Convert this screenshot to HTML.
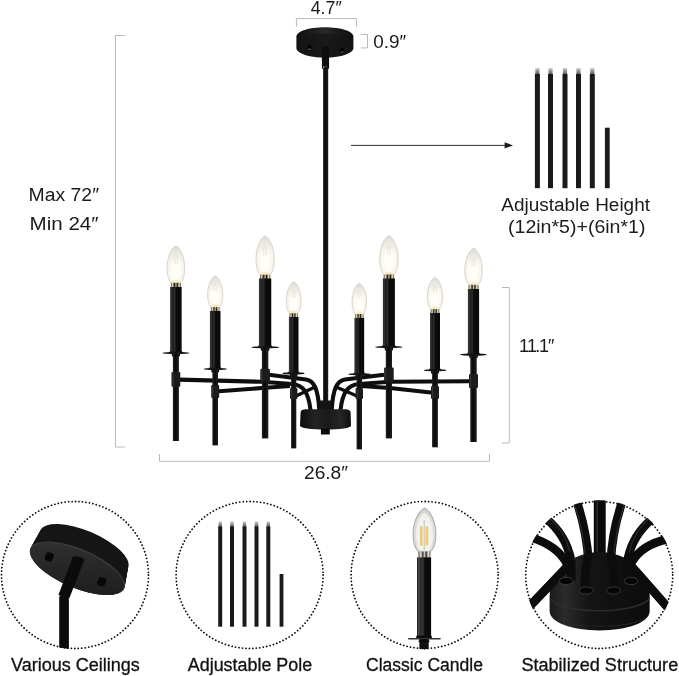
<!DOCTYPE html>
<html lang="en"><head><meta charset="utf-8"><title>Chandelier dimensions</title>
<style>html,body{margin:0;padding:0;background:#fff}body{width:679px;height:676px;overflow:hidden}svg{display:block;will-change:transform}text{font-family:"Liberation Sans", sans-serif;fill:#1b1b1b}</style></head><body>
<svg width="679" height="676" viewBox="0 0 679 676" role="img" aria-label="Chandelier dimensions">
<defs>
<radialGradient id="gbulb" cx="50%" cy="66%" r="64%">
<stop offset="0" stop-color="#fffefb"/><stop offset="0.45" stop-color="#fdfaef"/><stop offset="0.78" stop-color="#f3f1ea"/><stop offset="1" stop-color="#e1dfda"/>
</radialGradient>
<linearGradient id="gbtop" x1="0" x2="0" y1="0" y2="1">
<stop offset="0" stop-color="#dcdad6" stop-opacity="0.75"/><stop offset="0.3" stop-color="#e6e4e0" stop-opacity="0.35"/><stop offset="0.5" stop-color="#ffffff" stop-opacity="0"/>
</linearGradient>
<radialGradient id="glow" cx="50%" cy="50%" r="50%">
<stop offset="0" stop-color="#fff8e6" stop-opacity="0.5"/><stop offset="0.65" stop-color="#fffbf2" stop-opacity="0.28"/><stop offset="1" stop-color="#ffffff" stop-opacity="0"/>
</radialGradient>
<linearGradient id="gcollar" x1="0" x2="1" y1="0" y2="0">
<stop offset="0" stop-color="#5a4c38"/><stop offset="0.18" stop-color="#e6d8b8"/><stop offset="0.36" stop-color="#1e1a14"/><stop offset="0.5" stop-color="#cdbf9f"/><stop offset="0.64" stop-color="#1e1a14"/><stop offset="0.82" stop-color="#ece0c4"/><stop offset="1" stop-color="#5a4c38"/>
</linearGradient>
<linearGradient id="gtube" x1="0" x2="1" y1="0" y2="0">
<stop offset="0" stop-color="#141414"/><stop offset="0.14" stop-color="#3a3a3a"/><stop offset="0.28" stop-color="#1a1a1a"/><stop offset="0.4" stop-color="#2e2e2e"/><stop offset="0.52" stop-color="#0c0c0c"/><stop offset="1" stop-color="#090909"/>
</linearGradient>
<linearGradient id="gtube3" x1="0" x2="1" y1="0" y2="0">
<stop offset="0" stop-color="#161616"/><stop offset="0.13" stop-color="#505050"/><stop offset="0.27" stop-color="#222"/><stop offset="0.4" stop-color="#3c3c3c"/><stop offset="0.54" stop-color="#0e0e0e"/><stop offset="1" stop-color="#080808"/>
</linearGradient>
<linearGradient id="grod" x1="0" x2="1" y1="0" y2="0">
<stop offset="0" stop-color="#222"/><stop offset="0.4" stop-color="#0a0a0a"/><stop offset="1" stop-color="#1e1e1e"/>
</linearGradient>
<linearGradient id="gtip" x1="0" x2="0" y1="0" y2="1">
<stop offset="0" stop-color="#c8c8c8"/><stop offset="1" stop-color="#555"/>
</linearGradient>
<clipPath id="c1"><circle cx="75" cy="574.8" r="74.5"/></clipPath>
<clipPath id="c3"><circle cx="424.6" cy="574.8" r="74.5"/></clipPath>
<clipPath id="c4"><circle cx="599.2" cy="574.8" r="74.5"/></clipPath>
<linearGradient id="gface" x1="0" x2="1" y1="0" y2="1"><stop offset="0" stop-color="#333"/><stop offset="0.5" stop-color="#262626"/><stop offset="1" stop-color="#1c1c1c"/></linearGradient>
<linearGradient id="gcan" x1="0" x2="1" y1="0" y2="0"><stop offset="0" stop-color="#111"/><stop offset="0.3" stop-color="#1c1c1c"/><stop offset="0.5" stop-color="#2a2a2a"/><stop offset="0.7" stop-color="#1b1b1b"/><stop offset="1" stop-color="#0f0f0f"/></linearGradient>
<linearGradient id="ghub" x1="0" x2="1" y1="0" y2="0"><stop offset="0" stop-color="#0d0d0d"/><stop offset="0.3" stop-color="#232323"/><stop offset="0.55" stop-color="#1a1a1a"/><stop offset="0.8" stop-color="#262626"/><stop offset="1" stop-color="#0d0d0d"/></linearGradient>
<radialGradient id="gglass" cx="50%" cy="58%" r="60%"><stop offset="0" stop-color="#f6f5f2"/><stop offset="0.6" stop-color="#e6e5e2"/><stop offset="0.9" stop-color="#cfcfcc"/><stop offset="1" stop-color="#bdbdba"/></radialGradient>
<linearGradient id="gcollar3" x1="0" x2="1" y1="0" y2="0"><stop offset="0" stop-color="#55504a"/><stop offset="0.2" stop-color="#e9e4da"/><stop offset="0.38" stop-color="#3a342c"/><stop offset="0.5" stop-color="#d9d2c4"/><stop offset="0.64" stop-color="#2c2822"/><stop offset="0.82" stop-color="#efeae0"/><stop offset="1" stop-color="#5a544c"/></linearGradient>
<linearGradient id="ghub4" x1="0" x2="1" y1="0" y2="0"><stop offset="0" stop-color="#1a1a1a"/><stop offset="0.15" stop-color="#2b2b2b"/><stop offset="0.4" stop-color="#141414"/><stop offset="1" stop-color="#0c0c0c"/></linearGradient>
</defs>
<rect width="679" height="676" fill="#fff"/>
<g fill="none" stroke="#b9b9b9" stroke-width="1">
<path d="M125,35.5 H115.5 V447 H125"/>
<path d="M159.5,454 V461.3 H489.5 V454"/>
<path d="M502,287.5 H509.3 V443 H502"/>
<path d="M296.4,26.8 V18.6 H356.4 V26.8"/>
<path d="M360.8,34.5 H367.5 V47.9 H360.8"/>
</g>
<text x="310.7" y="14.4" font-size="17.5" textLength="31" lengthAdjust="spacingAndGlyphs" text-anchor="start">4.7″</text>
<text x="373.3" y="47.6" font-size="17.5" textLength="33" lengthAdjust="spacingAndGlyphs" text-anchor="start">0.9″</text>
<text x="28.6" y="200.7" font-size="18" textLength="70.4" lengthAdjust="spacingAndGlyphs" text-anchor="start">Max 72″</text>
<text x="29.6" y="229.7" font-size="18" textLength="69" lengthAdjust="spacingAndGlyphs" text-anchor="start">Min 24″</text>
<text x="519 527.1 535.3 539 548" y="352" font-size="18">11.1″</text>
<text x="304" y="478.7" font-size="17.5" textLength="44" lengthAdjust="spacingAndGlyphs" text-anchor="start">26.8″</text>
<text x="501.3" y="210.7" font-size="18" textLength="148.7" lengthAdjust="spacingAndGlyphs" text-anchor="start">Adjustable Height</text>
<text x="508" y="233.3" font-size="18" textLength="137.5" lengthAdjust="spacingAndGlyphs" text-anchor="start">(12in*5)+(6in*1)</text>
<path d="M351,145.4 H506" stroke="#2e2e2e" stroke-width="1" fill="none"/>
<path d="M513,145.4 L504.6,142.3 L504.6,148.5Z" fill="#1a1a1a"/>
<rect x="535.30" y="68.2" width="4.2" height="6.2" fill="url(#gtip)"/>
<rect x="534.90" y="74" width="5" height="114.2" fill="#1a1a1a"/>
<rect x="548.40" y="68.2" width="4.2" height="6.2" fill="url(#gtip)"/>
<rect x="548.00" y="74" width="5" height="114.2" fill="#1a1a1a"/>
<rect x="562.90" y="68.2" width="4.2" height="6.2" fill="url(#gtip)"/>
<rect x="562.50" y="74" width="5" height="114.2" fill="#1a1a1a"/>
<rect x="576.40" y="68.2" width="4.2" height="6.2" fill="url(#gtip)"/>
<rect x="576.00" y="74" width="5" height="114.2" fill="#1a1a1a"/>
<rect x="590.20" y="68.2" width="4.2" height="6.2" fill="url(#gtip)"/>
<rect x="589.80" y="74" width="5" height="114.2" fill="#1a1a1a"/>
<rect x="604.9" y="127.7" width="4.8" height="60.5" fill="#1a1a1a"/>
<g>
<path d="M296.4,36.5 C296.4,31.3 309,27.2 324.9,27.2 C340.8,27.2 353.4,31.3 353.4,36.5 V48 C353.4,53.3 340.8,57.6 324.9,57.6 C309,57.6 296.4,53.3 296.4,48Z" fill="url(#gcan)"/>
<path d="M297,42 C300,36.5 312,33.6 324.9,33.6 C338,33.6 350,36.5 352.8,42 V48 C352.8,53 340.5,57.2 324.9,57.2 C309.3,57.2 297,53 297,48Z" fill="#151515" opacity="0.75"/>
<rect x="307.2" y="44.8" width="4.4" height="5.6" rx="1.6" fill="#050505"/>
<rect x="307.8" y="48.6" width="3.4" height="1.4" rx="0.7" fill="#4a4a4a"/>
<rect x="339.8" y="47.8" width="4.4" height="5.4" rx="1.6" fill="#050505"/>
<rect x="340.4" y="51.4" width="3.4" height="1.3" rx="0.7" fill="#4a4a4a"/>
<rect x="321.9" y="46.5" width="7.2" height="22.4" rx="1.2" fill="#0d0d0d"/>
<circle cx="323.6" cy="67.2" r="0.9" fill="#9a9a9a"/>
<circle cx="326.2" cy="66.4" r="0.6" fill="#6a6a6a"/>
</g>
<rect x="323.1" y="68" width="5.1" height="342" fill="url(#grod)"/>
<g fill="none" stroke="#0e0e0e" stroke-width="4.1" stroke-linecap="butt">
<path d="M179,379.6 L262,381.8 L292,384 C303,385 308.5,392 310.5,410"/>
<path d="M219,391.3 L262,388 L290,386"/>
<path d="M269,374.8 L306,379.5 C314,381 318,388 319.3,410"/>
<path d="M296,396 L316,386.5" stroke-width="3.4"/>
<path d="M471,381.2 L390,381.8 L359,384 C348,385 342.5,392 340.5,410"/>
<path d="M433,392.8 L390,388 L361,386"/>
<path d="M384,374.8 L345,379.5 C337,381 333,388 331.7,410"/>
<path d="M357,396 L335,386.5" stroke-width="3.4"/>
</g>
<rect x="319.8" y="400.5" width="11.4" height="10" fill="#141414"/>
<path d="M300.6,412.5 C300.6,410.3 303,409.3 306,409.3 H345 C348,409.3 350.6,410.3 350.6,412.5 L351,425.5 C351,428 340,429.6 325.5,429.6 C311,429.6 300,428 300,425.5Z" fill="url(#ghub)"/>
<rect x="320.9" y="428.5" width="8.9" height="6" fill="#0a0a0a"/>
<ellipse cx="175.9" cy="267.8" rx="14.7" ry="24.6" fill="url(#glow)"/>
<path d="M175.90,245.80 C181.15,248.42 184.65,258.52 184.65,267.49 C184.65,277.22 182.46,281.33 180.28,283.20 L171.53,283.20 C169.34,281.33 167.15,277.22 167.15,267.49 C167.15,258.52 170.65,248.42 175.90,245.80Z" fill="url(#gbulb)" stroke="#cfcdc7" stroke-width="0.8"/>
<path d="M175.90,246.40 C180.79,248.98 184.05,258.91 184.05,267.74 C184.05,277.31 182.01,281.36 179.97,283.20 L171.83,283.20 C169.79,281.36 167.75,277.31 167.75,267.74 C167.75,258.91 171.01,248.98 175.90,246.40Z" fill="url(#gbtop)"/>
<ellipse cx="175.9" cy="268.6" rx="4.7" ry="10.0" fill="#fffefa" opacity="0.85"/>
<rect x="172.40" y="280.20" width="7.00" height="2.4" rx="1.2" fill="#f6e7bd" opacity="0.85"/>
<path d="M174.30,256.66 V264.84 M177.50,256.66 V264.84 M175.90,254.43 V264.10" stroke="#e3dcc6" stroke-width="0.7" fill="none" opacity="0.8"/>
<rect x="170.93" y="282.80" width="9.94" height="4.70" fill="url(#gcollar)"/>
<path d="M170.15,287.00 H181.65 V350.80 L182.55,352.40 V353.40 H169.25 V352.40 L170.15,350.80Z" fill="url(#gtube)"/>
<ellipse cx="175.95" cy="353.00" rx="13.45" ry="1.15" fill="#141414"/>
<rect x="171.80" y="353.00" width="8.20" height="3.4" rx="0.9" fill="#111"/>
<rect x="172.90" y="353.00" width="6.00" height="88.00" fill="url(#grod)"/>
<rect x="171.50" y="372.00" width="8.80" height="14.70" rx="1.2" fill="#1b1b1b"/>
<rect x="172.70" y="373.00" width="0.9" height="12.70" fill="#4a4a4a" opacity="0.7"/>
<ellipse cx="215.2" cy="294.4" rx="12.8" ry="20.8" fill="url(#glow)"/>
<path d="M215.20,275.80 C219.73,278.02 222.75,286.58 222.75,294.19 C222.75,302.43 220.86,305.92 218.97,307.50 L211.42,307.50 C209.54,305.92 207.65,302.43 207.65,294.19 C207.65,286.58 210.67,278.02 215.20,275.80Z" fill="url(#gbulb)" stroke="#cfcdc7" stroke-width="0.8"/>
<path d="M215.20,276.40 C219.37,278.58 222.15,286.97 222.15,294.44 C222.15,302.52 220.41,305.94 218.67,307.50 L211.72,307.50 C209.99,305.94 208.25,302.52 208.25,294.44 C208.25,286.97 211.03,278.58 215.20,276.40Z" fill="url(#gbtop)"/>
<ellipse cx="215.2" cy="295.0" rx="4.1" ry="8.5" fill="#fffefa" opacity="0.85"/>
<rect x="212.18" y="304.50" width="6.04" height="2.4" rx="1.2" fill="#f6e7bd" opacity="0.85"/>
<path d="M213.60,284.95 V291.88 M216.80,284.95 V291.88 M215.20,283.06 V291.25" stroke="#e3dcc6" stroke-width="0.7" fill="none" opacity="0.8"/>
<rect x="210.88" y="307.10" width="8.64" height="4.40" fill="url(#gcollar)"/>
<path d="M209.90,311.00 H220.50 V366.80 L221.40,368.40 V369.40 H209.00 V368.40 L209.90,366.80Z" fill="url(#gtube)"/>
<ellipse cx="215.40" cy="369.00" rx="11.60" ry="1.15" fill="#141414"/>
<rect x="211.30" y="369.00" width="7.80" height="3.4" rx="0.9" fill="#111"/>
<rect x="212.40" y="369.00" width="5.60" height="76.40" fill="url(#grod)"/>
<rect x="211.20" y="385.00" width="8.00" height="13.00" rx="1.2" fill="#1b1b1b"/>
<rect x="212.40" y="386.00" width="0.9" height="11.00" fill="#4a4a4a" opacity="0.7"/>
<ellipse cx="265.1" cy="259.0" rx="15.2" ry="25.8" fill="url(#glow)"/>
<path d="M265.10,235.80 C270.53,238.55 274.15,249.16 274.15,258.59 C274.15,268.81 271.89,273.13 269.62,275.10 L260.58,275.10 C258.31,273.13 256.05,268.81 256.05,258.59 C256.05,249.16 259.67,238.55 265.10,235.80Z" fill="url(#gbulb)" stroke="#cfcdc7" stroke-width="0.8"/>
<path d="M265.10,236.40 C270.17,239.11 273.55,249.56 273.55,258.85 C273.55,268.91 271.44,273.17 269.33,275.10 L260.88,275.10 C258.76,273.17 256.65,268.91 256.65,258.85 C256.65,249.56 260.03,239.11 265.10,236.40Z" fill="url(#gbtop)"/>
<ellipse cx="265.1" cy="259.7" rx="4.9" ry="10.6" fill="#fffefa" opacity="0.85"/>
<rect x="261.48" y="272.10" width="7.24" height="2.4" rx="1.2" fill="#f6e7bd" opacity="0.85"/>
<path d="M263.50,247.23 V255.83 M266.70,247.23 V255.83 M265.10,244.88 V255.05" stroke="#e3dcc6" stroke-width="0.7" fill="none" opacity="0.8"/>
<rect x="259.97" y="274.70" width="10.26" height="4.40" fill="url(#gcollar)"/>
<path d="M258.95,278.60 H271.25 V345.10 L272.15,346.70 V347.70 H258.05 V346.70 L258.95,345.10Z" fill="url(#gtube)"/>
<ellipse cx="265.35" cy="347.30" rx="13.95" ry="1.15" fill="#141414"/>
<rect x="260.80" y="347.30" width="8.60" height="3.4" rx="0.9" fill="#111"/>
<rect x="261.90" y="347.30" width="6.40" height="91.10" fill="url(#grod)"/>
<rect x="260.30" y="368.70" width="9.60" height="13.30" rx="1.2" fill="#1b1b1b"/>
<rect x="261.50" y="369.70" width="0.9" height="11.30" fill="#4a4a4a" opacity="0.7"/>
<ellipse cx="293.7" cy="300.5" rx="12.5" ry="21.0" fill="url(#glow)"/>
<path d="M293.70,281.70 C298.11,283.94 301.05,292.58 301.05,300.26 C301.05,308.58 299.21,312.10 297.38,313.70 L290.02,313.70 C288.19,312.10 286.35,308.58 286.35,300.26 C286.35,292.58 289.29,283.94 293.70,281.70Z" fill="url(#gbulb)" stroke="#cfcdc7" stroke-width="0.8"/>
<path d="M293.70,282.30 C297.75,284.50 300.45,292.98 300.45,300.51 C300.45,308.68 298.76,312.13 297.07,313.70 L290.32,313.70 C288.64,312.13 286.95,308.68 286.95,300.51 C286.95,292.98 289.65,284.50 293.70,282.30Z" fill="url(#gbtop)"/>
<ellipse cx="293.7" cy="301.1" rx="4.0" ry="8.6" fill="#fffefa" opacity="0.85"/>
<rect x="290.76" y="310.70" width="5.88" height="2.4" rx="1.2" fill="#f6e7bd" opacity="0.85"/>
<path d="M292.10,290.94 V297.94 M295.30,290.94 V297.94 M293.70,289.03 V297.30" stroke="#e3dcc6" stroke-width="0.7" fill="none" opacity="0.8"/>
<rect x="289.49" y="313.30" width="8.42" height="4.20" fill="url(#gcollar)"/>
<path d="M288.90,317.00 H298.50 V371.20 L299.40,372.80 V373.80 H288.00 V372.80 L288.90,371.20Z" fill="url(#gtube)"/>
<ellipse cx="293.50" cy="373.40" rx="11.10" ry="1.15" fill="#141414"/>
<rect x="290.00" y="373.40" width="7.40" height="3.4" rx="0.9" fill="#111"/>
<rect x="291.10" y="373.40" width="5.20" height="75.00" fill="url(#grod)"/>
<rect x="290.00" y="388.00" width="7.40" height="11.00" rx="1.2" fill="#1b1b1b"/>
<rect x="291.20" y="389.00" width="0.9" height="9.00" fill="#4a4a4a" opacity="0.7"/>
<ellipse cx="359.3" cy="301.6" rx="12.3" ry="20.5" fill="url(#glow)"/>
<path d="M359.30,283.20 C363.65,285.39 366.55,293.84 366.55,301.35 C366.55,309.49 364.74,312.94 362.93,314.50 L355.68,314.50 C353.86,312.94 352.05,309.49 352.05,301.35 C352.05,293.84 354.95,285.39 359.30,283.20Z" fill="url(#gbulb)" stroke="#cfcdc7" stroke-width="0.8"/>
<path d="M359.30,283.80 C363.29,285.95 365.95,294.24 365.95,301.61 C365.95,309.59 364.29,312.96 362.62,314.50 L355.98,314.50 C354.31,312.96 352.65,309.59 352.65,301.61 C352.65,294.24 355.31,285.95 359.30,283.80Z" fill="url(#gbtop)"/>
<ellipse cx="359.3" cy="302.2" rx="3.9" ry="8.4" fill="#fffefa" opacity="0.85"/>
<rect x="356.40" y="311.50" width="5.80" height="2.4" rx="1.2" fill="#f6e7bd" opacity="0.85"/>
<path d="M357.70,292.23 V299.07 M360.90,292.23 V299.07 M359.30,290.36 V298.45" stroke="#e3dcc6" stroke-width="0.7" fill="none" opacity="0.8"/>
<rect x="355.14" y="314.10" width="8.32" height="4.40" fill="url(#gcollar)"/>
<path d="M354.45,318.00 H364.15 V372.00 L365.05,373.60 V374.60 H353.55 V373.60 L354.45,372.00Z" fill="url(#gtube)"/>
<ellipse cx="359.65" cy="374.20" rx="11.35" ry="1.15" fill="#141414"/>
<rect x="355.50" y="374.20" width="7.60" height="3.4" rx="0.9" fill="#111"/>
<rect x="356.60" y="374.20" width="5.40" height="75.20" fill="url(#grod)"/>
<rect x="355.60" y="388.00" width="7.40" height="11.00" rx="1.2" fill="#1b1b1b"/>
<rect x="356.80" y="389.00" width="0.9" height="9.00" fill="#4a4a4a" opacity="0.7"/>
<ellipse cx="388.9" cy="258.7" rx="15.4" ry="25.9" fill="url(#glow)"/>
<path d="M388.90,235.50 C394.39,238.26 398.05,248.90 398.05,258.35 C398.05,268.60 395.76,272.93 393.47,274.90 L384.32,274.90 C382.04,272.93 379.75,268.60 379.75,258.35 C379.75,248.90 383.41,238.26 388.90,235.50Z" fill="url(#gbulb)" stroke="#cfcdc7" stroke-width="0.8"/>
<path d="M388.90,236.10 C394.03,238.82 397.45,249.29 397.45,258.60 C397.45,268.69 395.31,272.96 393.17,274.90 L384.62,274.90 C382.49,272.96 380.35,268.69 380.35,258.60 C380.35,249.29 383.77,238.82 388.90,236.10Z" fill="url(#gbtop)"/>
<ellipse cx="388.9" cy="259.5" rx="4.9" ry="10.6" fill="#fffefa" opacity="0.85"/>
<rect x="385.24" y="271.90" width="7.32" height="2.4" rx="1.2" fill="#f6e7bd" opacity="0.85"/>
<path d="M387.30,246.96 V255.58 M390.50,246.96 V255.58 M388.90,244.61 V254.80" stroke="#e3dcc6" stroke-width="0.7" fill="none" opacity="0.8"/>
<rect x="383.72" y="274.50" width="10.37" height="4.50" fill="url(#gcollar)"/>
<path d="M382.90,278.50 H394.90 V344.80 L395.80,346.40 V347.40 H382.00 V346.40 L382.90,344.80Z" fill="url(#gtube)"/>
<ellipse cx="388.85" cy="347.00" rx="13.65" ry="1.15" fill="#141414"/>
<rect x="384.70" y="347.00" width="8.40" height="3.4" rx="0.9" fill="#111"/>
<rect x="385.80" y="347.00" width="6.20" height="91.40" fill="url(#grod)"/>
<rect x="384.10" y="367.60" width="9.60" height="14.40" rx="1.2" fill="#1b1b1b"/>
<rect x="385.30" y="368.60" width="0.9" height="12.40" fill="#4a4a4a" opacity="0.7"/>
<ellipse cx="435.0" cy="296.2" rx="12.8" ry="21.1" fill="url(#glow)"/>
<path d="M435.00,277.30 C439.53,279.55 442.55,288.25 442.55,295.98 C442.55,304.35 440.66,307.89 438.77,309.50 L431.23,309.50 C429.34,307.89 427.45,304.35 427.45,295.98 C427.45,288.25 430.47,279.55 435.00,277.30Z" fill="url(#gbulb)" stroke="#cfcdc7" stroke-width="0.8"/>
<path d="M435.00,277.90 C439.17,280.11 441.95,288.64 441.95,296.23 C441.95,304.44 440.21,307.92 438.48,309.50 L431.52,309.50 C429.79,307.92 428.05,304.44 428.05,296.23 C428.05,288.64 430.83,280.11 435.00,277.90Z" fill="url(#gbtop)"/>
<ellipse cx="435.0" cy="296.8" rx="4.1" ry="8.6" fill="#fffefa" opacity="0.85"/>
<rect x="431.98" y="306.50" width="6.04" height="2.4" rx="1.2" fill="#f6e7bd" opacity="0.85"/>
<path d="M433.40,286.60 V293.64 M436.60,286.60 V293.64 M435.00,284.68 V293.00" stroke="#e3dcc6" stroke-width="0.7" fill="none" opacity="0.8"/>
<rect x="430.68" y="309.10" width="8.64" height="4.40" fill="url(#gcollar)"/>
<path d="M430.00,313.00 H440.00 V368.10 L440.90,369.70 V370.70 H429.10 V369.70 L430.00,368.10Z" fill="url(#gtube)"/>
<ellipse cx="435.20" cy="370.30" rx="11.40" ry="1.15" fill="#141414"/>
<rect x="431.00" y="370.30" width="8.00" height="3.4" rx="0.9" fill="#111"/>
<rect x="432.10" y="370.30" width="5.80" height="77.00" fill="url(#grod)"/>
<rect x="431.00" y="386.00" width="8.00" height="13.00" rx="1.2" fill="#1b1b1b"/>
<rect x="432.20" y="387.00" width="0.9" height="11.00" fill="#4a4a4a" opacity="0.7"/>
<ellipse cx="473.5" cy="269.9" rx="14.6" ry="24.4" fill="url(#glow)"/>
<path d="M473.50,248.10 C478.69,250.70 482.15,260.71 482.15,269.62 C482.15,279.26 479.99,283.34 477.82,285.20 L469.18,285.20 C467.01,283.34 464.85,279.26 464.85,269.62 C464.85,260.71 468.31,250.70 473.50,248.10Z" fill="url(#gbulb)" stroke="#cfcdc7" stroke-width="0.8"/>
<path d="M473.50,248.70 C478.33,251.26 481.55,261.11 481.55,269.87 C481.55,279.36 479.54,283.38 477.52,285.20 L469.48,285.20 C467.46,283.38 465.45,279.36 465.45,269.87 C465.45,261.11 468.67,251.26 473.50,248.70Z" fill="url(#gbtop)"/>
<ellipse cx="473.5" cy="270.7" rx="4.7" ry="10.0" fill="#fffefa" opacity="0.85"/>
<rect x="470.04" y="282.20" width="6.92" height="2.4" rx="1.2" fill="#f6e7bd" opacity="0.85"/>
<path d="M471.90,258.87 V266.99 M475.10,258.87 V266.99 M473.50,256.66 V266.25" stroke="#e3dcc6" stroke-width="0.7" fill="none" opacity="0.8"/>
<rect x="468.59" y="284.80" width="9.83" height="4.70" fill="url(#gcollar)"/>
<path d="M467.90,289.00 H479.10 V352.40 L480.00,354.00 V355.00 H467.00 V354.00 L467.90,352.40Z" fill="url(#gtube)"/>
<ellipse cx="473.50" cy="354.60" rx="13.50" ry="1.15" fill="#141414"/>
<rect x="469.20" y="354.60" width="8.60" height="3.4" rx="0.9" fill="#111"/>
<rect x="470.30" y="354.60" width="6.40" height="87.40" fill="url(#grod)"/>
<rect x="469.00" y="374.00" width="9.00" height="14.00" rx="1.2" fill="#1b1b1b"/>
<rect x="470.20" y="375.00" width="0.9" height="12.00" fill="#4a4a4a" opacity="0.7"/>
<circle cx="75" cy="575" r="73.5" fill="none" stroke="#0c0c0c" stroke-width="1.8" stroke-dasharray="0.01 3.4886" stroke-linecap="round"/>
<circle cx="249.6" cy="575" r="73.5" fill="none" stroke="#0c0c0c" stroke-width="1.8" stroke-dasharray="0.01 3.4886" stroke-linecap="round"/>
<circle cx="424.6" cy="575" r="73.5" fill="none" stroke="#0c0c0c" stroke-width="1.8" stroke-dasharray="0.01 3.4886" stroke-linecap="round"/>
<circle cx="599.2" cy="575" r="73.5" fill="none" stroke="#0c0c0c" stroke-width="1.8" stroke-dasharray="0.01 3.4886" stroke-linecap="round"/>
<g clip-path="url(#c1)">
<g transform="rotate(23 77.4 568.3)">
<ellipse cx="76.17" cy="548.00" rx="47.60" ry="18.30" fill="#161616"/>
<ellipse cx="76.25" cy="549.45" rx="47.84" ry="18.39" fill="#161616"/>
<ellipse cx="76.34" cy="550.90" rx="48.09" ry="18.47" fill="#161616"/>
<ellipse cx="76.43" cy="552.35" rx="48.33" ry="18.56" fill="#161616"/>
<ellipse cx="76.52" cy="553.80" rx="48.57" ry="18.64" fill="#161616"/>
<ellipse cx="76.61" cy="555.25" rx="48.81" ry="18.73" fill="#161616"/>
<ellipse cx="76.69" cy="556.70" rx="49.06" ry="18.81" fill="#161616"/>
<ellipse cx="76.78" cy="558.15" rx="49.30" ry="18.90" fill="#161616"/>
<ellipse cx="76.87" cy="559.60" rx="49.54" ry="18.99" fill="#161616"/>
<ellipse cx="76.96" cy="561.05" rx="49.79" ry="19.07" fill="#161616"/>
<ellipse cx="77.05" cy="562.50" rx="50.03" ry="19.16" fill="#161616"/>
<ellipse cx="77.14" cy="563.95" rx="50.27" ry="19.24" fill="#161616"/>
<ellipse cx="77.22" cy="565.40" rx="50.51" ry="19.33" fill="#161616"/>
<ellipse cx="77.31" cy="566.85" rx="50.76" ry="19.41" fill="#161616"/>
<ellipse cx="77.40" cy="568.30" rx="51.00" ry="19.50" fill="#161616"/>
<ellipse cx="77.4" cy="568.3" rx="51" ry="19.5" fill="#3a3a3a"/>
<ellipse cx="77.4" cy="568.9" rx="50.2" ry="18.7" fill="url(#gface)"/>
</g>
<rect x="45.2" y="552.6" width="8" height="8.6" rx="2.6" fill="#070707" transform="rotate(20 49.2 556.8)"/>
<rect x="97.7" y="577.4" width="8" height="8.6" rx="2.6" fill="#070707" transform="rotate(20 101.7 581.6)"/>
<path d="M73,556.5 Q79,555 84.5,559.5 L69.2,598.5 L58.4,595Z" fill="#0b0b0b"/>
<path d="M59.2,597.5 Q59.2,595 61.5,595.2 L67,596.5 Q68.9,597 68.9,599.5 V653 H59.2Z" fill="#0b0b0b"/>
</g>
<rect x="218.50" y="521.6" width="3.4" height="5" fill="url(#gtip)"/>
<rect x="218.20" y="526.3" width="4" height="100.4" fill="#1a1a1a"/>
<rect x="230.30" y="521.6" width="3.4" height="5" fill="url(#gtip)"/>
<rect x="230.00" y="526.3" width="4" height="100.4" fill="#1a1a1a"/>
<rect x="242.80" y="521.6" width="3.4" height="5" fill="url(#gtip)"/>
<rect x="242.50" y="526.3" width="4" height="100.4" fill="#1a1a1a"/>
<rect x="254.80" y="521.6" width="3.4" height="5" fill="url(#gtip)"/>
<rect x="254.50" y="526.3" width="4" height="100.4" fill="#1a1a1a"/>
<rect x="266.60" y="521.6" width="3.4" height="5" fill="url(#gtip)"/>
<rect x="266.30" y="526.3" width="4" height="100.4" fill="#1a1a1a"/>
<rect x="279.6" y="574" width="3.8" height="52.7" fill="#1a1a1a"/>
<g clip-path="url(#c3)">
<path d="M424.50,508.10 C431.34,511.17 435.90,523.03 435.90,533.56 C435.90,544.98 433.05,549.80 430.20,552.00 L418.80,552.00 C415.95,549.80 413.10,544.98 413.10,533.56 C413.10,523.03 417.66,511.17 424.50,508.10Z" fill="url(#gglass)" stroke="#a3a3a0" stroke-width="0.9"/>
<path d="M424.50,512.50 C429.45,515.20 432.75,525.59 432.75,534.83 C432.75,544.84 430.69,549.08 428.62,551.00 L420.38,551.00 C418.31,549.08 416.25,544.84 416.25,534.83 C416.25,525.59 419.55,515.20 424.50,512.50Z" fill="#f4f3ef" opacity="0.85"/>
<rect x="423.5" y="520" width="1.6" height="30" fill="#c9c7c0" opacity="0.8"/>
<rect x="419.9" y="526.2" width="2.7" height="19.6" rx="1.2" fill="#f1cb74"/>
<rect x="425.6" y="526.2" width="2.7" height="19.6" rx="1.2" fill="#f1cb74"/>
<rect x="418.4" y="551.6" width="12" height="6.4" fill="url(#gcollar3)"/>
<rect x="417" y="557.4" width="14.1" height="80" fill="url(#gtube3)"/>
<rect x="416.2" y="635.4" width="15.7" height="3.6" rx="1.4" fill="#0c0c0c"/>
<rect x="408" y="638" width="32.8" height="1.5" rx="0.7" fill="#333"/>
<rect x="419.4" y="639" width="9.3" height="12" fill="#0f0f0f"/>
<rect x="418.6" y="640.2" width="10.9" height="2" rx="0.8" fill="#0a0a0a"/>
</g>
<g clip-path="url(#c4)">
<g fill="none" stroke="#0c0c0c" stroke-linecap="round" stroke-width="8.6">
<path d="M588.5,562 C587.5,543 584,522 575.5,498"/>
<path d="M610.8,562 C611.5,543 615,522 623.5,498"/>
<path d="M571,560 C568,545 560,530 546,518.5"/>
<path d="M566.5,563 C560,551 549,543 531,537.5"/>
<path d="M628,558 C631,544 639,530 652,519"/>
<path d="M632.5,561 C639,550 650,543 668,539"/>
<path d="M571,584 C566,560 578,556 566,568 L528,608"/>
<path d="M628,584 C633,560 621,556 633,568 L670,610"/>
</g>
<g fill="none" stroke="#2e2e2e" stroke-linecap="round" stroke-width="1.2" opacity="0.9">
<path d="M585.5,560 C584.5,543 581.5,524 574,503"/>
<path d="M613.5,560 C614.5,543 617.5,524 625,503"/>
<path d="M549,517.5 C560,527 567,540 570,552"/>
<path d="M650,517.5 C639,527 632,540 629,552"/>
</g>
<rect x="593.8" y="498" width="11.9" height="72" fill="#0a0a0a"/>
<rect x="596.3" y="498" width="1.6" height="58" fill="#2c2c2c"/>
<path d="M549.6,596 C549.6,572 572,552 599.6,552 C627,552 649.7,572 649.7,596 V611 C649.7,622.5 627,630.4 599.6,630.4 C572,630.4 549.6,622.5 549.6,611Z" fill="url(#ghub4)"/>
<path d="M550.3,599 C562,614.5 637,614.5 649,599" fill="none" stroke="#2d2d2d" stroke-width="1.5"/>
<path d="M553,618 C570,629 629,629 646,618" fill="none" stroke="#262626" stroke-width="1"/>
<g fill="none" stroke="#0c0c0c" stroke-linecap="round" stroke-width="8.6">
<path d="M571.5,578 C570,562 574,559 567,567 L528,608"/>
<path d="M627.5,578 C629,562 625,559 632,567 L670,610"/>
<path d="M585,588 C584,570 588,562 588,556"/>
<path d="M614,588 C615,570 611,562 611,556"/>
</g>
<ellipse cx="566.2" cy="581" rx="7" ry="3.6" fill="#050505" stroke="#3d3d3d" stroke-width="0.9"/>
<ellipse cx="586.3" cy="590.5" rx="7" ry="3.6" fill="#050505" stroke="#3d3d3d" stroke-width="0.9"/>
<ellipse cx="613.5" cy="590.5" rx="7" ry="3.6" fill="#050505" stroke="#3d3d3d" stroke-width="0.9"/>
<ellipse cx="631.2" cy="581" rx="7" ry="3.6" fill="#050505" stroke="#3d3d3d" stroke-width="0.9"/>
</g>
<text x="11" y="670.7" font-size="18" textLength="128.8" lengthAdjust="spacingAndGlyphs" text-anchor="start" style="fill:#111" stroke="#111" stroke-width="0.3">Various Ceilings</text>
<text x="187.8" y="670.7" font-size="18" textLength="124.4" lengthAdjust="spacingAndGlyphs" text-anchor="start" style="fill:#111" stroke="#111" stroke-width="0.3">Adjustable Pole</text>
<text x="366" y="670.7" font-size="18" textLength="117" lengthAdjust="spacingAndGlyphs" text-anchor="start" style="fill:#111" stroke="#111" stroke-width="0.3">Classic Candle</text>
<text x="521.4" y="670.7" font-size="18" textLength="156.8" lengthAdjust="spacingAndGlyphs" text-anchor="start" style="fill:#111" stroke="#111" stroke-width="0.3">Stabilized Structure</text>
</svg></body></html>
